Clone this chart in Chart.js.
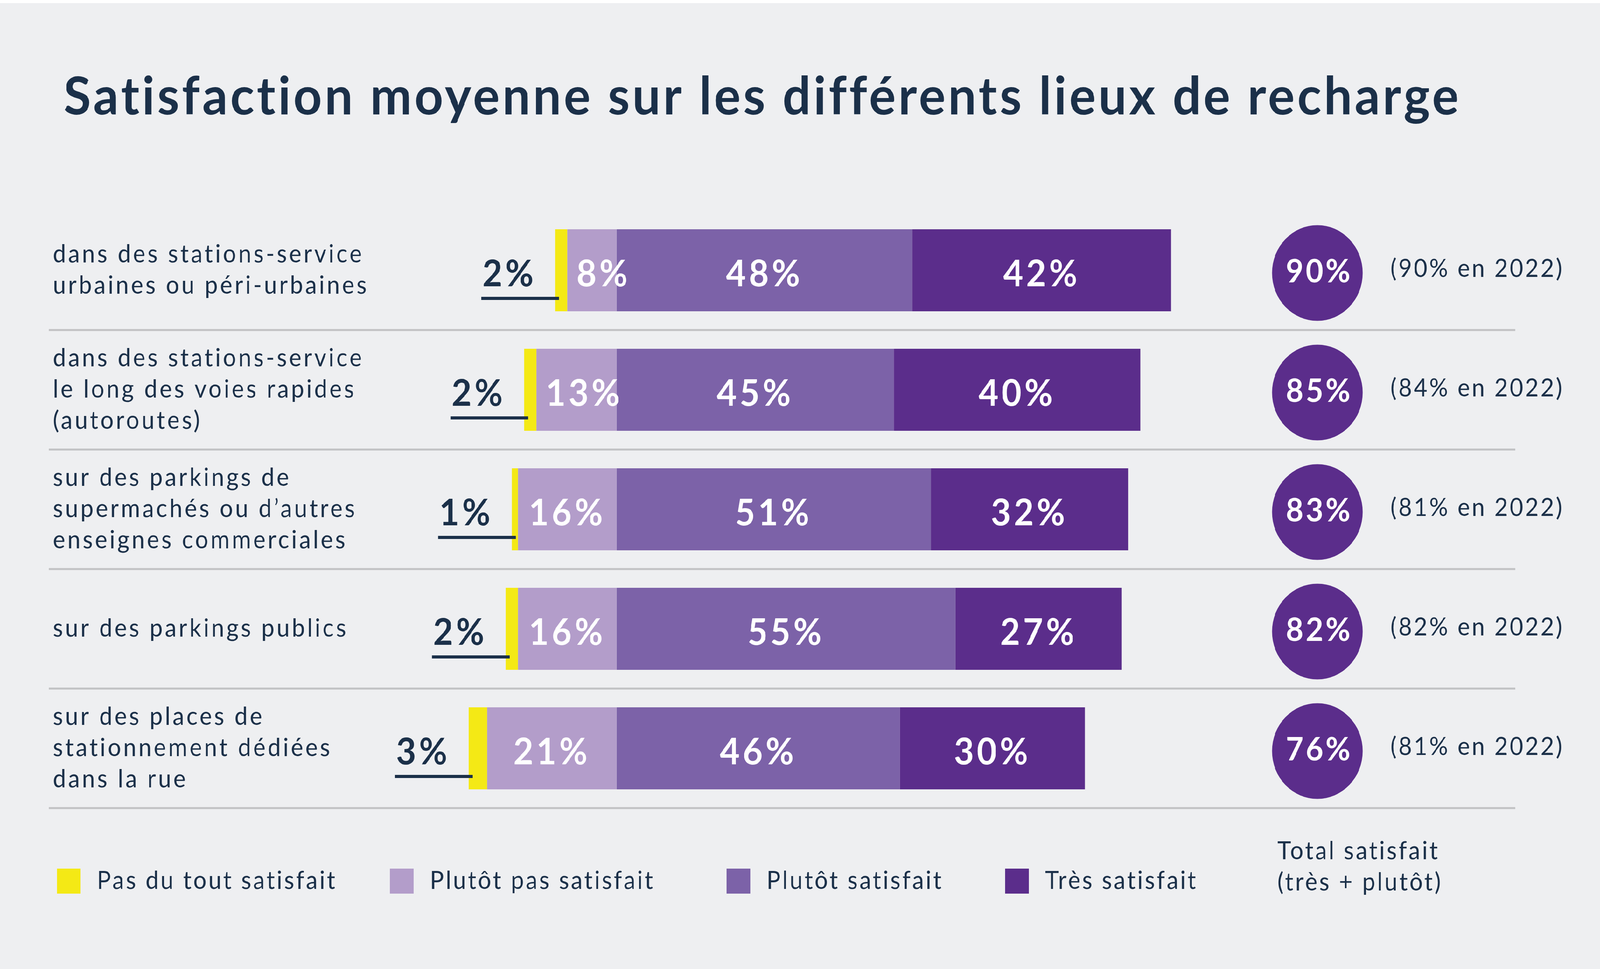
<!DOCTYPE html>
<html><head><meta charset="utf-8">
<script src="https://cdn.jsdelivr.net/npm/chart.js@4.4.1/dist/chart.umd.min.js"></script>
<style>
html,body{margin:0;padding:0;background:#eeeff1;overflow:hidden;}
#stage{position:absolute;left:0;top:0;width:4325px;height:2481px;transform-origin:0 0;}
#c{position:absolute;left:0;top:0;}
#topband{position:absolute;left:0;top:0;width:4325px;height:8px;background:#fff;}
</style></head><body>
<div id="stage">
<canvas id="c" width="4325" height="2481"></canvas>
<div id="topband"></div>
</div>
<script>
// ---------- data ----------
const chartTitle = 'Satisfaction moyenne sur les différents lieux de recharge';
const categories = [
  ['dans des stations-service', 'urbaines ou péri-urbaines'],
  ['dans des stations-service', 'le long des voies rapides', '(autoroutes)'],
  ['sur des parkings de', 'supermachés ou d’autres', 'enseignes commerciales'],
  ['sur des parkings publics'],
  ['sur des places de', 'stationnement dédiées', 'dans la rue']
];
const seriesNames = ['Pas du tout satisfait', 'Plutôt pas satisfait', 'Plutôt satisfait', 'Très satisfait'];
const pasDuTout       = [2, 2, 1, 2, 3];
const plutotPas       = [8, 13, 16, 16, 21];
const plutotSatisfait = [48, 45, 51, 55, 46];
const tresSatisfait   = [42, 40, 32, 27, 30];
const totalSatisfait  = [90, 85, 83, 82, 76];
const total2022       = [90, 84, 81, 82, 81];
const totalTitle = ['Total satisfait', '(très + plutôt)'];

// ---------- fit the 4325x2481 design to the viewport ----------
const W = 4325, H = 2481;
const stage = document.getElementById('stage');
const sx = (window.innerWidth || W) / W, sy = (window.innerHeight || H) / H;
stage.style.transform = `scale(${sx}, ${sy})`;

// ---------- styles ----------
const BG = '#eeeff1', NAVY = '#1b3049', SEP = '#c1c2c4';
const COL = {yellow: '#f4e915', lav: '#b39dca', med: '#7c62a8', dark: '#5b2d8b'};
const FONT = 'Lato';
const pct = v => v + '%';
const BODY_LS = '6px';

const overlay = {
  id: 'overlay',
  beforeDraw(chart) {
    const {ctx, width, height} = chart;
    ctx.save();
    ctx.fillStyle = BG;
    ctx.fillRect(0, 0, width, height);
    ctx.fillStyle = NAVY;
    ctx.font = `700 135px ${FONT}`;
    ctx.letterSpacing = '7px';
    ctx.textAlign = 'left';
    ctx.textBaseline = 'alphabetic';
    ctx.fillText(chartTitle, 172, 293);
    ctx.restore();
    ctx.letterSpacing = BODY_LS;
  },
  beforeDatasetsDraw(chart) {
    const {ctx} = chart;
    const ys = chart.scales.y;
    const pitch = ys.getPixelForValue(1) - ys.getPixelForValue(0);
    ctx.save();
    ctx.fillStyle = SEP;
    for (let i = 0; i < categories.length; i++) {
      const yb = ys.getPixelForValue(i) + pitch / 2;
      ctx.fillRect(132, yb - 2.5, 4096 - 132, 5);
    }
    ctx.restore();
  },
  afterDatasetsDraw(chart) {
    const {ctx} = chart;
    const ys = chart.scales.y;
    ctx.save();
    ctx.textBaseline = 'alphabetic';
    const m = chart.data.datasets.map((d, k) => chart.getDatasetMeta(k));
    for (let i = 0; i < categories.length; i++) {
      const yc = ys.getPixelForValue(i);
      const seg = k => {
        const p = m[k].data[i].getProps(['x', 'base'], true);
        return {l: Math.min(p.x, p.base), r: Math.max(p.x, p.base)};
      };
      ctx.font = `700 93px ${FONT}`;
      ctx.letterSpacing = '8px';
      ctx.fillStyle = '#ffffff';
      ctx.textAlign = 'left';
      {
        const s = seg(0); const t = pct(plutotPas[i]);
        const w = ctx.measureText(t).width;
        const x = Math.max((s.l + s.r) / 2 - w / 2, s.l + 25);
        ctx.fillText(t, x, yc + 41);
      }
      [[2, plutotSatisfait], [3, tresSatisfait]].forEach(([k, arr]) => {
        const s = seg(k); const t = pct(arr[i]);
        const w = ctx.measureText(t).width;
        ctx.fillText(t, (s.l + s.r) / 2 - w / 2, yc + 41);
      });
      {
        const s = seg(1); const t = pct(pasDuTout[i]);
        ctx.fillStyle = NAVY;
        const w = ctx.measureText(t).width;
        const xr = s.l - 50;
        ctx.fillText(t, xr - w, yc + 41);
        ctx.fillRect(xr - w - 3, yc + 68, (s.l + 11) - (xr - w - 3), 8);
      }
      ctx.fillStyle = COL.dark;
      ctx.beginPath();
      ctx.arc(3561, yc + 7, 122.5, 0, Math.PI * 2);
      ctx.fill();
      ctx.fillStyle = '#ffffff';
      ctx.font = `700 82px ${FONT}`;
      ctx.letterSpacing = '6px';
      ctx.textAlign = 'center';
      ctx.fillText(pct(totalSatisfait[i]), 3566, yc + 31);
      ctx.fillStyle = NAVY;
      ctx.font = `400 63px ${FONT}`;
      ctx.letterSpacing = '5px';
      ctx.textBaseline = 'middle';
      ctx.fillText('(' + pct(total2022[i]) + ' en 2022)', 3993, yc - 3);
      ctx.textBaseline = 'alphabetic';
    }
    const lx = [154, 1054, 1964, 2717];
    ctx.font = `400 63px ${FONT}`;
    ctx.letterSpacing = '5px';
    ctx.textAlign = 'left';
    ctx.textBaseline = 'middle';
    seriesNames.forEach((name, j) => {
      const ds = chart.data.datasets.find(d => d.label === name);
      ctx.fillStyle = ds.backgroundColor;
      ctx.fillRect(lx[j], 2224, 64, 64);
      ctx.fillStyle = NAVY;
      ctx.fillText(name, lx[j] + 108, 2256);
    });
    ctx.fillText(totalTitle[0], 3453, 2180);
    ctx.fillText(totalTitle[1], 3453, 2260);
    ctx.restore();
    ctx.letterSpacing = BODY_LS;
  }
};

new Chart(document.getElementById('c'), {
  type: 'bar',
  data: {
    labels: categories,
    datasets: [
      {label: seriesNames[1], data: plutotPas.map(v => -v), backgroundColor: COL.lav},
      {label: seriesNames[0], data: pasDuTout.map(v => -v), backgroundColor: COL.yellow},
      {label: seriesNames[2], data: plutotSatisfait, backgroundColor: COL.med},
      {label: seriesNames[3], data: tresSatisfait, backgroundColor: COL.dark}
    ]
  },
  options: {
    indexAxis: 'y',
    responsive: false,
    animation: false,
    devicePixelRatio: 1,
    layout: {padding: {left: 143, right: 1076, top: 539, bottom: 412}},
    datasets: {bar: {categoryPercentage: 1, barPercentage: 0.686, borderWidth: 0}},
    scales: {
      x: {type: 'linear', stacked: true, min: -30, max: 95, display: false},
      y: {
        stacked: true,
        grid: {display: false},
        border: {display: false},
        ticks: {crossAlign: 'far', color: NAVY, padding: 0,
                font: {family: FONT, size: 63, lineHeight: 1.27}},
        afterFit(s) { s.width = 1024; }
      }
    },
    plugins: {legend: {display: false}, tooltip: {enabled: false}}
  },
  plugins: [overlay]
});
</script>
</body></html>
